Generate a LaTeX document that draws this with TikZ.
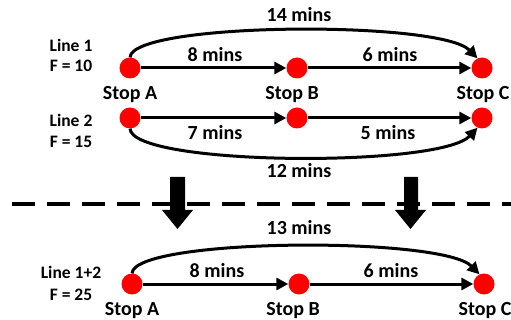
\documentclass[tikz,border=0pt]{standalone}
\usepackage{fontspec}
\setmainfont{Carlito}
\usetikzlibrary{arrows.meta}
\begin{document}
\begin{tikzpicture}[x=1pt,y=-1pt,
  stopdot/.style={circle,fill=red,inner sep=0pt,minimum size=21pt},
  conn/.style={line width=3pt,-{Triangle[length=12pt,width=12pt]}},
  lbl/.style={font=\bfseries\fontsize{20}{24}\selectfont,anchor=base,inner sep=0pt},
  side/.style={font=\bfseries\fontsize{17.5}{21}\selectfont,anchor=base,inner sep=0pt,align=center},
  blockarrow/.style={fill=black},
  sep/.style={line width=4pt,dash pattern=on 23pt off 12pt}
  ]
\useasboundingbox (0,0) rectangle (511,320);

% row 1
\node[stopdot] (A1) at (130,68) {};
\node[stopdot] (B1) at (297,68) {};
\node[stopdot] (C1) at (482,68) {};
% row 2
\node[stopdot] (A2) at (130,118) {};
\node[stopdot] (B2) at (297,118) {};
\node[stopdot] (C2) at (482,118) {};
% row 3
\node[stopdot] (A3) at (132,284) {};
\node[stopdot] (B3) at (299,284) {};
\node[stopdot] (C3) at (484,284) {};

\draw[conn] (A1) -- (B1);
\draw[conn] (B1) -- (C1);
\draw[conn] (A1.north) .. controls (132,22) and (440,20) .. (C1.115);

\draw[conn] (A2) -- (B2);
\draw[conn] (B2) -- (C2);
\draw[conn] (A2.south) .. controls (132,166) and (440,168) .. (C2.245);

\draw[conn] (A3) -- (B3);
\draw[conn] (B3) -- (C3);
\draw[conn] (A3.north) .. controls (134,238) and (442,236) .. (C3.115);

% labels
\node[lbl] (t14) at (299,22) {14 mins};
\node[lbl] (t8a) at (215,62) {8 mins};
\node[lbl] (t6a) at (390,62) {6 mins};
\node[lbl] (sA1) at (130,100) {Stop A};
\node[lbl] (sB1) at (292,100) {Stop B};
\node[lbl] (sC1) at (483,100) {Stop C};
\node[lbl] (t7) at (215,140) {7 mins};
\node[lbl] (t5) at (388,140) {5 mins};
\node[lbl] (t12) at (299,178) {12 mins};
\node[lbl] (t13) at (299,235) {13 mins};
\node[lbl] (t8b) at (217,277) {8 mins};
\node[lbl] (t6b) at (391,277) {6 mins};
\node[lbl] (sA3) at (132,315) {Stop A};
\node[lbl] (sB3) at (293,315) {Stop B};
\node[lbl] (sC3) at (485,315) {Stop C};

\node[side] (l1) at (71,52) {Line 1};
\node[side] (f1) at (71,72) {F = 10};
\node[side] (l2) at (71,127) {Line 2};
\node[side] (f2) at (71,148) {F = 15};
\node[side] (l3) at (71,279) {Line 1+2};
\node[side] (f3) at (71,300) {F = 25};

% separator
\coordinate (sepL) at (12,204);
\coordinate (sepR) at (515,204);
\draw[sep] (sepL) -- (sepR);

% block arrows
\fill[blockarrow] (170,177) -- (185,177) -- (185,210) -- (193,210) -- (177.5,229) -- (162,210) -- (170,210) -- cycle;
\fill[blockarrow] (404,177) -- (418,177) -- (418,210) -- (426,210) -- (410.5,229) -- (395,210) -- (404,210) -- cycle;
\end{tikzpicture}
\end{document}
